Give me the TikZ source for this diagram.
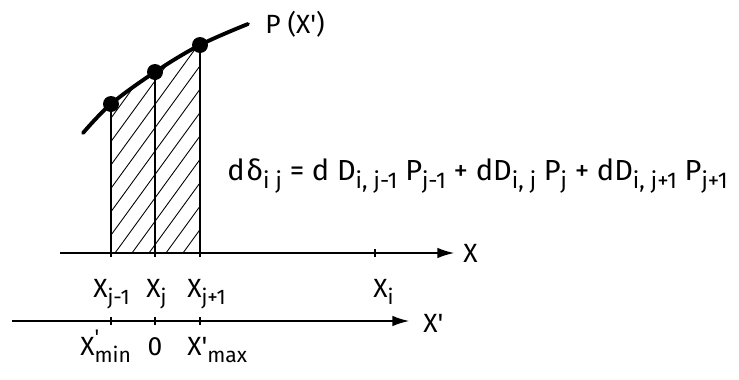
\documentclass[tikz,border=0pt]{standalone}
\usepackage{fontspec}
\setmainfont{Fira Sans}
\usetikzlibrary{arrows.meta}

\newcommand{\lowr}[1]{\raisebox{-0.55ex}{\fontsize{12}{14}\selectfont #1}}
\newcommand{\lowrq}[1]{\raisebox{-0.55ex}{\fontsize{13}{15}\selectfont #1}}
\newcommand{\prm}{\textquotesingle}

\begin{document}
\begin{tikzpicture}[scale=1,
    axis/.style={line width=1.5pt,-{Latex[length=10pt,width=6pt]}},
    bar/.style={line width=1.5pt},
    tick/.style={line width=1.2pt},
    hatch/.style={line width=0.5pt},
    lbl/.style={inner sep=0pt,font=\fontsize{15}{17}\selectfont}]
            \useasboundingbox (0,0) rectangle (14.78,7.58);

            % axes
            \coordinate (a) at (1.2,2.52);
            \coordinate (b) at (9.1,2.52);
            \coordinate (c) at (0.24,1.16);
            \coordinate (d) at (8.2,1.16);

            % points on the curve and their feet
            \coordinate (p1) at (2.22,5.50);
            \coordinate (p2) at (3.10,6.14);
            \coordinate (p3) at (4.00,6.68);
            \coordinate (f1) at (2.22,2.44);
            \coordinate (f2) at (3.10,2.44);
            \coordinate (f3) at (4.00,2.44);
            \coordinate (s) at (1.66,4.92);
            \coordinate (e) at (4.96,7.10);

            % hatched strip
            \begin{scope}
                \clip (2.22,2.52) -- (p1) -- (p2) -- (p3) -- (4.00,2.52) -- cycle;
                \foreach \k in {0,...,17}{
                    \draw[hatch] ({4.0-0.34*\k},2.52) -- ++(54:5.4);
                }
            \end{scope}

            \draw[bar] (f1)--(p1);
            \draw[bar] (f2)--(p2);
            \draw[bar] (f3)--(p3);

            \draw[line width=2.2pt,line cap=round] plot[smooth,tension=0.6] coordinates {(s) (p1) (p2) (p3) (e)};

            \foreach \p in {p1,p2,p3}{
                \fill (\p) circle (0.16);
            }

            \draw[axis] (a)--(b);
            \draw[axis] (c)--(d);

            \draw[tick] (7.5,2.44)--(7.5,2.60);
            \foreach \x in {2.22,3.10,4.00}{
                \draw[tick] (\x,1.08)--(\x,1.24);
            }

            % labels
            \node[lbl,anchor=base west] (px) at (5.30,6.92) {P (X\prm)};
            \node[lbl,anchor=base west] (xu) at (9.26,2.34) {X};
            \node[lbl,anchor=base west] (xl) at (8.46,0.94) {X\prm};

            \node[lbl,anchor=base west] (xjm) at (1.86,1.64) {X\lowr{j-1}};
            \node[lbl,anchor=base west] (xj) at (2.92,1.64) {X\lowr{j}};
            \node[lbl,anchor=base west] (xjp) at (3.74,1.64) {X\lowr{j+1}};
            \node[lbl,anchor=base west] (xi) at (7.46,1.64) {X\lowr{i}};

            \node[lbl,anchor=base west] (xmin) at (1.60,0.48)
                {X\lowr{\makebox[0pt][l]{\raisebox{1.6ex}{\prm}}min}};
            \node[lbl,anchor=base] (zero) at (3.10,0.48) {0};
            \node[lbl,anchor=base west] (xmax) at (3.74,0.48) {X\prm\lowr{max}};

            \node[lbl,anchor=base west,font=\fontsize{16.5}{18}\selectfont] (eq) at (4.54,3.98)
                {d\kern1ptδ\lowrq{i j} = d D\lowrq{i, j-1} P\lowrq{j-1} + dD\lowrq{i, j} P\lowrq{j} + dD\lowrq{i, j+1} P\lowrq{j+1}};
        \end{tikzpicture}
\end{document}
